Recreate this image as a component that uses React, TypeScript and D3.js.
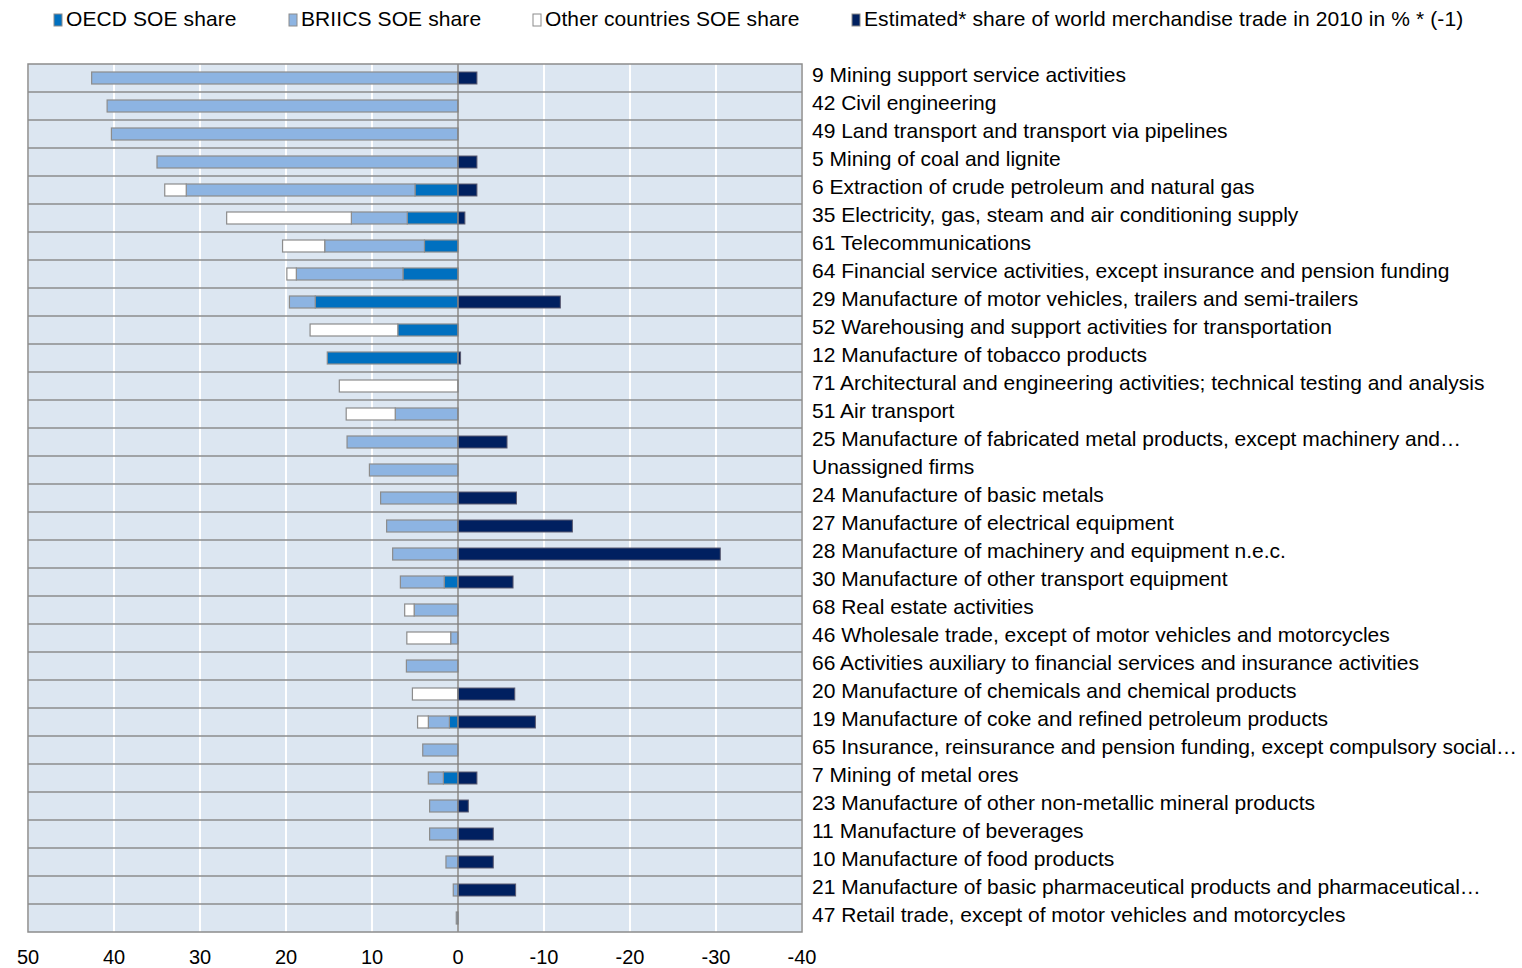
import React from "react";
import * as d3 from "d3";

const categories = [
  "9 Mining support service activities",
  "42 Civil engineering",
  "49 Land transport and transport via pipelines",
  "5 Mining of coal and lignite",
  "6 Extraction of crude petroleum and natural gas",
  "35 Electricity, gas, steam and air conditioning supply",
  "61 Telecommunications",
  "64 Financial service activities, except insurance and pension funding",
  "29 Manufacture of motor vehicles, trailers and semi-trailers",
  "52 Warehousing and support activities for transportation",
  "12 Manufacture of tobacco products",
  "71 Architectural and engineering activities; technical testing and analysis",
  "51 Air transport",
  "25 Manufacture of fabricated metal products, except machinery and…",
  "Unassigned firms",
  "24 Manufacture of basic metals",
  "27 Manufacture of electrical equipment",
  "28 Manufacture of machinery and equipment n.e.c.",
  "30 Manufacture of other transport equipment",
  "68 Real estate activities",
  "46 Wholesale trade, except of motor vehicles and motorcycles",
  "66 Activities auxiliary to financial services and insurance activities",
  "20 Manufacture of chemicals and chemical products",
  "19 Manufacture of coke and refined petroleum products",
  "65 Insurance, reinsurance and pension funding, except compulsory social…",
  "7 Mining of metal ores",
  "23 Manufacture of other non-metallic mineral products",
  "11 Manufacture of beverages",
  "10 Manufacture of food products",
  "21 Manufacture of basic pharmaceutical products and pharmaceutical…",
  "47 Retail trade, except of motor vehicles and motorcycles",
];

const oecdShare = [0, 0, 0, 0, 5.0, 5.9, 3.9, 6.4, 16.6, 7.0, 15.2, 0, 0, 0, 0, 0, 0, 0, 1.6, 0, 0, 0, 0, 1.0, 0, 1.7, 0, 0, 0, 0, 0];
const briicsShare = [42.6, 40.8, 40.3, 35.0, 26.6, 6.5, 11.6, 12.4, 3.0, 0, 0, 0, 7.3, 12.9, 10.3, 9.0, 8.3, 7.6, 5.1, 5.1, 0.85, 6.0, 0, 2.45, 4.1, 1.75, 3.3, 3.3, 1.4, 0.55, 0.2];
const otherShare = [0, 0, 0, 0, 2.5, 14.5, 4.9, 1.1, 0, 10.2, 0, 13.8, 5.7, 0, 0, 0, 0, 0, 0, 1.1, 5.1, 0, 5.3, 1.25, 0, 0, 0, 0, 0, 0, 0];
const tradeShare = [2.2, 0, 0, 2.2, 2.2, 0.8, 0, 0, 11.9, 0, 0.3, 0, 0, 5.7, 0, 6.8, 13.3, 30.5, 6.4, 0, 0, 0, 6.6, 9.0, 0, 2.2, 1.2, 4.1, 4.1, 6.7, 0];

const xTicks = [50, 40, 30, 20, 10, 0, -10, -20, -30, -40];

const legendItems = [
  { label: "OECD SOE share", color: "#0070C0", x: 54 },
  { label: "BRIICS SOE share", color: "#8DB4E2", x: 289 },
  { label: "Other countries SOE share", color: "#FFFFFF", x: 533 },
  { label: "Estimated* share of world merchandise trade in 2010 in % * (-1)", color: "#002060", x: 852 },
];

const seriesKeys = ["oecd", "briics", "other"];
const seriesColors: Record<string, string> = { oecd: "#0070C0", briics: "#8DB4E2", other: "#FFFFFF" };

export default function App() {
  const W = 1522, H = 968;
  const left = 28, right = 802, top = 64, bottom = 932;
  const x = d3.scaleLinear().domain([50, -40]).range([left, right]);
  const y = d3.scaleBand<string>().domain(categories).range([top, bottom]).padding(0);
  const step = y.step();
  const barH = 12;

  const rows = categories.map((c, i) => ({ cat: c, oecd: oecdShare[i], briics: briicsShare[i], other: otherShare[i], trade: tradeShare[i] }));
  const stacked = d3.stack<any>().keys(seriesKeys)(rows);

  const font = "'Liberation Sans', Arial, sans-serif";

  return (
    <svg width={W} height={H} style={{ position: "absolute", left: 0, top: 0, background: "#fff" }} fontFamily={font}>
      {/* Legend */}
      {legendItems.map((l) => (
        <g key={l.label}>
          <rect x={l.x} y={14} width={8} height={12} fill={l.color} stroke="#8c8c8c" strokeWidth={1} />
          <text x={l.x + 12} y={19} dy="0.35em" fontSize={21} fill="#000" letterSpacing={0.1}>{l.label}</text>
        </g>
      ))}

      {/* Plot background */}
      <rect x={left} y={top} width={right - left} height={bottom - top} fill="#DCE6F1" />
      {/* vertical gridlines */}
      {xTicks.map((t) => (
        <line key={"g" + t} x1={x(t)} x2={x(t)} y1={top} y2={bottom} stroke="#ffffff" strokeWidth={2} />
      ))}
      {/* row separators */}
      {categories.map((c, i) => (i > 0 ? (
        <line key={"r" + i} x1={left} x2={right} y1={y(c)!} y2={y(c)!} stroke="#8c8c8c" strokeWidth={1.5} />
      ) : null))}

      {/* stacked SOE bars */}
      {stacked.map((s) => (
        <g key={s.key}>
          {s.map((d, i) => {
            const v0 = d[0], v1 = d[1];
            if (v1 - v0 <= 0) return null;
            const x0 = x(v1), x1 = x(v0);
            const yc = y(categories[i])! + step / 2;
            return (
              <rect key={i} x={x0} y={yc - barH / 2} width={x1 - x0} height={barH}
                fill={seriesColors[s.key]} stroke="#8c8c8c" strokeWidth={1.2} />
            );
          })}
        </g>
      ))}
      {/* trade bars (plotted as * -1) */}
      {rows.map((r, i) => {
        if (r.trade <= 0) return null;
        const x0 = x(0), x1 = x(-r.trade);
        const yc = y(r.cat)! + step / 2;
        return <rect key={"t" + i} x={x0} y={yc - barH / 2} width={x1 - x0} height={barH} fill="#002060" stroke="#5a5a70" strokeWidth={1} />;
      })}

      {/* zero line */}
      <line x1={x(0)} x2={x(0)} y1={top} y2={bottom} stroke="#808080" strokeWidth={1.5} />
      {/* border */}
      <rect x={left} y={top} width={right - left} height={bottom - top} fill="none" stroke="#8c8c8c" strokeWidth={1.5} />

      {/* tick labels */}
      {xTicks.map((t) => (
        <text key={"t" + t} x={x(t)} y={957} dy="0.35em" textAnchor="middle" fontSize={20} fill="#000">{t}</text>
      ))}

      {/* category labels */}
      {categories.map((c) => (
        <text key={"c" + c} x={812} y={y(c)! + step / 2 - 3} dy="0.35em" fontSize={21} fill="#000" letterSpacing={0}>{c}</text>
      ))}
    </svg>
  );
}
